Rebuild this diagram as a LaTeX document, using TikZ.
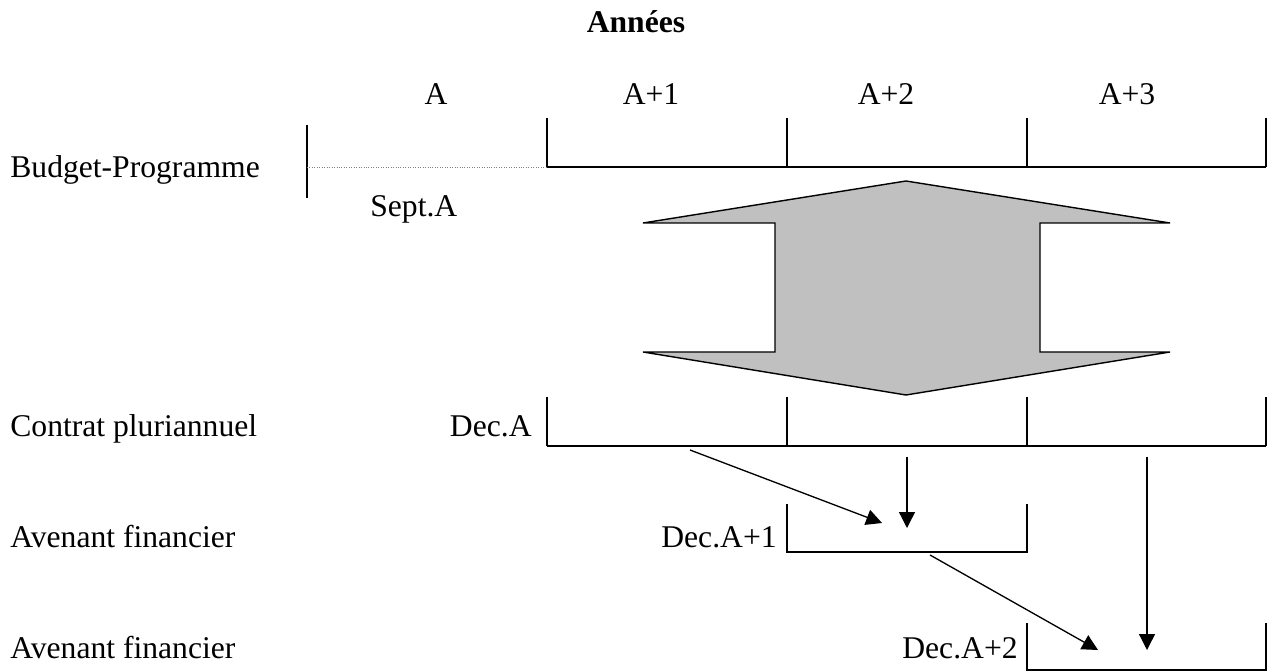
\documentclass[tikz,border=0pt]{standalone}
\usepackage{fontspec}
\setmainfont{Liberation Serif}
\usetikzlibrary{arrows.meta}
\definecolor{shapegray}{RGB}{192,192,192}

\begin{document}
\begin{tikzpicture}[
    x=0.02cm, y=-0.02cm,
    every node/.style={font=\fontsize{18}{21.6}\selectfont, inner sep=0pt},
    rowlabel/.style={anchor=base west},
    datelabel/.style={anchor=base east},
    yearlabel/.style={anchor=base},
    bracket/.style={line width=0.8pt},
    arrow/.style={-{Triangle[length=9pt, width=9pt]}, line width=0.75pt},
    transfer/.style={draw=black, line width=0.8pt, fill=shapegray, line join=miter}
]

% Canvas
\useasboundingbox (0,0) rectangle (1270,671);

% Title and years
\node[yearlabel, font=\fontsize{18}{21.6}\selectfont\bfseries] (title) at (636,33) {Années};
\node[yearlabel] (yA) at (436,105) {A};
\node[yearlabel] (yA1) at (651,105) {A+1};
\node[yearlabel] (yA2) at (886,105) {A+2};
\node[yearlabel] (yA3) at (1127,105) {A+3};

% Row labels
\node[rowlabel] (budget) at (10,178) {Budget-Programme};
\node[rowlabel] (contrat) at (10,437) {Contrat pluriannuel};
\node[rowlabel] (avenant1) at (10,547) {Avenant financier};
\node[rowlabel] (avenant2) at (10,658) {Avenant financier};

% Date labels
\node[anchor=base west] (sept) at (370,217) {Sept.A};
\node[datelabel] (decA) at (532,437) {Dec.A};
\node[datelabel] (decA1) at (777,547) {Dec.A+1};
\node[datelabel] (decA2) at (1018,658) {Dec.A+2};

% Budget-Programme time line
\draw[bracket] (307,125) -- (307,198);
\draw[gray, line width=0.4pt, densely dotted] (307,167) -- (547,167);
\foreach \x in {547,787,1027,1266}
    \draw[bracket] (\x,118) -- (\x,167);
\draw[bracket] (547,167) -- (1266,167);

% Double arrow between budget and contract
\draw[transfer] (643,223) -- (906,181) -- (1170,223) -- (1040,223) -- (1040,352)
    -- (1170,352) -- (906,395) -- (643,352) -- (775,352) -- (775,223) -- cycle;

% Contrat pluriannuel
\foreach \x in {547,787,1027,1266}
    \draw[bracket] (\x,397) -- (\x,446);
\draw[bracket] (547,446) -- (1266,446);

% Avenant financier 1
\draw[bracket] (787,504) -- (787,552) -- (1027,552) -- (1027,504);

% Avenant financier 2
\draw[bracket] (1027,623) -- (1027,670) -- (1266,670) -- (1266,623);

% Arrows
\coordinate (c1) at (690,450);
\coordinate (c2) at (907,457);
\coordinate (c3) at (1147,457);
\coordinate (a1) at (930,555);
\coordinate (t1) at (882,523);
\coordinate (t2) at (907,528);
\coordinate (t3) at (1098,650);
\coordinate (t4) at (1147,650);
\draw[arrow] (c1) -- (t1);
\draw[arrow] (c2) -- (t2);
\draw[arrow] (a1) -- (t3);
\draw[arrow] (c3) -- (t4);

\end{tikzpicture}
\end{document}
